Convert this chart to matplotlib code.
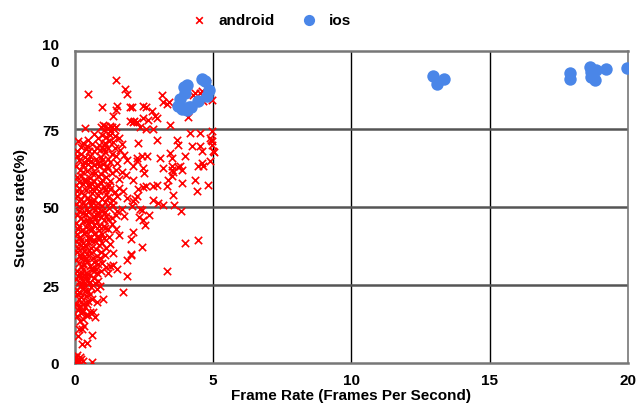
import numpy as np
import matplotlib
matplotlib.use("Agg")
import matplotlib.pyplot as plt

plt.rcParams['font.family'] = ['Liberation Sans', 'DejaVu Sans']
plt.rcParams['font.weight'] = 'bold'

# android points (frame rate, success rate)
android_fps = [
    # sparse upper part
    1.50, 0.49, 1.82, 1.90, 0.99, 1.53, 1.50, 2.00, 1.39, 2.00, 2.11, 0.38, 1.03, 1.28,
    3.16, 3.19, 3.34, 3.41, 2.08, 2.47, 2.58, 2.80, 2.91, 2.47, 2.65, 2.98, 2.15, 2.26,
    4.10, 3.45, 2.36, 2.58, 2.83, 4.53, 4.60, 4.46, 4.64, 4.28, 4.96, 4.89, 4.96, 5.00,
    4.17, 4.53, 3.70, 3.74, 2.98, 2.29, 4.24, 4.53, 4.60, 3.45, 3.52, 2.62, 2.44, 2.26,
    3.09, 3.99, 4.60, 4.89, 3.81, 3.52, 2.26, 4.78, 4.35, 4.96, 4.93, 4.96, 5.04,
    # sparse middle part
    2.11, 2.47, 2.51, 3.19, 3.52, 3.74, 3.88, 4.46, 4.64, 2.11, 2.29, 2.47, 2.58, 2.83,
    2.98, 3.34, 3.38, 3.52, 3.56, 3.88, 4.35, 4.82, 4.42, 3.56, 2.18, 2.26, 2.11, 2.83,
    3.01, 3.19, 3.59, 3.84, 2.08, 2.36, 2.44, 2.69, 2.33, 2.47, 2.55, 2.11, 2.04, 2.44,
    3.99, 4.46, 2.04,
    # sparse lower part
    3.34, 1.90, 1.75, 1.03, 0.63, 0.27, 0.45, 0.63, 2.04, 1.90, 1.53, 1.28, 0.13, 0.27,
    0.31, 0.49, 0.67, 0.74, 0.56, 0.27, 0.81, 0.63, 0.20, 0.38, 0.81, 0.92, 0.85, 0.56,
    0.05, 0.10, 0.15, 0.20, 0.10, 0.25, 0.05, 0.30, 0.18, 0.08,
    # dense cluster
    0.95, 1.05, 1.12, 1.20, 1.28, 1.35, 1.42, 1.50, 1.00, 1.15, 1.30, 1.45, 0.70, 0.85,
    1.10, 1.25, 1.40, 0.50, 1.60, 1.70, 0.90, 0.30, 1.05,
    0.10, 0.25, 0.40, 0.55, 0.70, 0.80, 0.95, 1.10, 1.20, 1.35, 1.50, 1.65, 1.80, 0.15,
    0.35, 0.60, 0.85, 1.00, 1.30, 1.55, 1.90, 0.45,
    0.05, 0.20, 0.30, 0.45, 0.60, 0.75, 0.90, 1.05, 1.20, 1.35, 1.50, 1.70, 0.10, 0.25,
    0.40, 0.55, 0.70, 0.85, 1.00, 1.15, 1.30, 1.60, 1.85, 0.50, 0.95,
    0.05, 0.15, 0.30, 0.40, 0.55, 0.65, 0.80, 0.90, 1.05, 1.15, 1.30, 1.45, 1.60, 1.75,
    0.10, 0.25, 0.35, 0.50, 0.70, 0.85, 1.00, 1.20, 1.40, 1.55, 1.90, 0.60,
    0.05, 0.20, 0.30, 0.45, 0.60, 0.75, 0.85, 1.00, 1.10, 1.25, 1.40, 1.55, 1.70, 0.10,
    0.25, 0.40, 0.55, 0.70, 0.95, 1.15, 1.35, 1.50, 1.80, 0.65, 0.90,
    0.05, 0.15, 0.30, 0.40, 0.50, 0.65, 0.80, 0.90, 1.05, 1.20, 1.35, 1.50, 0.10, 0.20,
    0.35, 0.55, 0.70, 0.85, 1.00, 1.25, 1.60, 0.45, 0.75,
    0.05, 0.15, 0.25, 0.40, 0.50, 0.60, 0.75, 0.90, 1.00, 1.15, 1.30, 0.10, 0.20, 0.35,
    0.45, 0.60, 0.80, 0.95, 1.10, 1.40, 0.30,
    0.05, 0.15, 0.25, 0.35, 0.45, 0.55, 0.70, 0.85, 1.00, 1.15, 0.10, 0.20, 0.30, 0.40,
    0.55, 0.65, 0.80, 0.95, 1.20, 1.40,
    0.05, 0.15, 0.25, 0.35, 0.45, 0.60, 0.70, 0.10, 0.20, 0.30, 0.40, 0.50, 0.15, 0.25,
    0.55, 0.75,
    0.05, 0.15, 0.25, 0.10, 0.20, 0.35, 0.15, 0.45, 0.30,
    # extra fill of the dense cluster
    0.12, 0.22, 0.38, 0.52, 0.65, 0.78, 0.92, 1.08, 1.22, 1.18, 0.62, 0.32, 0.08, 0.48,
    0.72, 1.45, 1.02, 0.18,
    0.08, 0.22, 0.35, 0.48, 0.62, 0.78, 0.95, 1.10, 1.25, 0.18, 0.38, 0.52, 0.68, 0.82,
    0.98, 1.12, 1.28, 0.15, 0.32, 0.48, 0.62, 0.78, 1.05, 1.22,
    0.12, 0.28, 0.42, 0.58, 0.72, 0.88, 1.12, 0.18, 0.32, 0.48, 0.62, 0.78, 0.88, 1.08,
    0.12, 0.28, 0.42, 0.52, 0.68, 0.22, 0.38, 0.62, 0.78, 0.92,
    0.12, 0.28, 0.42, 0.52, 0.32, 0.20, 0.08, 0.38, 0.48, 0.30, 0.12, 0.22, 0.40,
]
android_success = [
    90.7, 86.2, 87.8, 86.2, 81.9, 82.3, 81.0, 82.0, 79.1, 77.5, 77.2, 75.2, 76.2, 75.9,
    85.9, 83.6, 83.0, 83.6, 82.0, 82.3, 82.0, 80.7, 79.1, 78.5, 77.8, 78.5, 77.5, 77.2,
    78.8, 76.2, 75.6, 74.9, 74.9, 86.5, 87.1, 84.2, 83.9, 85.9, 74.3, 72.0, 71.1, 67.8,
    73.6, 73.6, 71.4, 69.8, 71.4, 70.4, 69.5, 69.5, 67.8, 67.2, 65.6, 66.2, 66.2, 65.6,
    65.6, 66.2, 64.0, 64.6, 63.3, 63.0, 64.6, 89.7, 86.5, 84.2, 71.4, 69.8, 67.5,
    63.3, 62.4, 60.8, 62.4, 61.7, 62.7, 61.7, 63.0, 63.3, 58.5, 55.9, 56.3, 56.6, 56.6,
    57.2, 56.6, 58.5, 59.8, 61.1, 57.6, 58.8, 56.9, 55.0, 54.0, 52.7, 53.4, 51.8, 52.1,
    51.4, 50.8, 50.5, 48.6, 50.2, 49.5, 48.9, 47.3, 46.9, 45.7, 44.1, 42.1, 39.9, 37.3,
    38.6, 39.5, 35.0,
    29.6, 28.0, 22.8, 20.6, 9.0, 6.1, 6.4, 0.3, 34.7, 33.1, 30.2, 31.2, 8.7, 10.9,
    14.1, 15.4, 16.4, 14.8, 16.4, 16.4, 19.6, 20.6, 18.3, 18.0, 23.8, 24.8, 26.4, 26.0,
    0.5, 1.0, 0.3, 2.0, 2.5, 1.2, 1.8, 0.5, 0.8, 0.2,
    75.5, 74.8, 76.0, 75.2, 74.5, 75.8, 74.9, 75.5, 73.0, 72.5, 73.2, 72.8, 73.5, 72.0,
    70.5, 71.2, 70.8, 71.5, 72.0, 70.3, 70.0, 70.5, 68.6,
    68.0, 67.0, 68.5, 66.5, 67.8, 69.0, 66.0, 67.5, 65.5, 67.0, 66.2, 68.2, 66.8, 65.0,
    64.5, 64.8, 64.2, 65.0, 64.5, 64.0, 65.2, 69.5,
    63.0, 62.0, 63.5, 61.5, 62.8, 61.0, 63.2, 61.8, 62.5, 60.8, 62.0, 61.2, 59.5, 60.0,
    58.5, 59.2, 58.2, 59.8, 58.8, 59.5, 58.3, 59.0, 60.3, 63.8, 60.5,
    57.0, 56.0, 57.5, 55.5, 56.8, 54.5, 57.2, 55.0, 56.5, 54.2, 55.8, 54.8, 56.2, 55.0,
    53.5, 52.5, 54.0, 53.0, 52.2, 53.8, 52.5, 53.2, 52.3, 53.5, 53.0, 57.8,
    51.0, 50.0, 51.5, 49.5, 50.8, 49.0, 51.2, 50.2, 48.5, 49.8, 50.5, 48.8, 49.5, 47.5,
    46.5, 47.8, 46.2, 47.0, 46.8, 47.2, 46.5, 47.5, 47.0, 51.8, 48.0,
    45.0, 44.0, 45.5, 43.5, 44.8, 43.0, 45.2, 42.5, 44.0, 42.8, 44.5, 43.0, 41.5, 40.5,
    41.8, 40.2, 41.2, 40.8, 41.5, 40.5, 41.0, 45.8, 46.0,
    39.0, 38.0, 39.5, 37.5, 38.8, 37.0, 39.2, 37.8, 38.5, 36.8, 38.0, 35.5, 34.5, 36.0,
    34.8, 35.2, 34.2, 35.5, 34.5, 35.2, 37.2,
    33.0, 32.0, 33.5, 31.5, 32.8, 31.0, 32.5, 31.8, 32.2, 30.8, 29.5, 28.5, 30.0, 29.0,
    28.2, 29.8, 28.8, 29.5, 29.0, 31.5,
    27.0, 26.0, 27.5, 25.0, 26.5, 24.5, 27.2, 23.5, 22.5, 24.0, 21.5, 23.0, 20.5, 21.0,
    22.0, 25.5,
    19.0, 17.5, 19.5, 15.0, 13.5, 12.0, 11.0, 18.8, 16.8,
    71.0, 69.2, 66.0, 68.0, 70.2, 65.5, 68.2, 69.8, 68.8, 63.0, 61.0, 61.3, 66.5, 65.2,
    63.5, 69.0, 63.8, 58.0,
    55.0, 54.8, 58.8, 57.0, 55.8, 56.0, 57.8, 55.5, 57.2, 51.8, 50.5, 52.0, 49.8, 50.0,
    48.8, 51.5, 51.2, 48.8, 48.2, 48.5, 45.5, 47.8, 45.8, 46.0,
    43.0, 42.5, 42.0, 42.5, 44.2, 43.8, 43.2, 39.8, 38.5, 40.0, 39.0, 36.5, 39.8, 40.0,
    36.8, 35.0, 33.8, 36.2, 33.5, 31.0, 33.0, 30.5, 30.2, 33.5,
    28.0, 29.0, 27.8, 25.5, 26.2, 24.8, 22.0, 23.0, 20.0, 19.0, 17.0, 16.0, 15.5,
]

ios_fps = [3.80, 3.75, 3.90, 4.05, 4.20, 3.95, 4.05, 4.00, 4.60, 4.70, 4.85, 4.80, 4.45, 4.15,
           12.94, 13.09, 13.34, 17.89, 17.92, 18.61, 18.83, 18.68, 18.79, 19.19, 19.98, 18.68]
ios_success = [84.5, 82.5, 81.5, 81.0, 82.0, 88.5, 89.0, 86.5, 91.0, 90.5, 87.5, 85.5, 84.0, 82.0,
               92.0, 89.4, 91.0, 92.9, 91.0, 94.9, 93.9, 91.6, 90.7, 94.2, 94.5, 93.2]

x_ticks = [0, 5, 10, 15, 20]
y_ticks = [0, 25, 50, 75, 100]
y_tick_labels = ['0', '25', '50', '75', '10\n0']

fig = plt.figure(figsize=(6.36, 4.14), dpi=100)
ax = fig.add_axes([74.5 / 636, 50 / 414, (628 - 74.5) / 636, (364 - 52) / 414])

ax.scatter(android_fps, android_success, marker='x', s=28, color='#ff0000',
           linewidths=1.2, label='android', zorder=3)
ax.scatter(ios_fps, ios_success, marker='o', s=80, color='#4a86e8',
           linewidths=0, label='ios', zorder=4)

ax.set_xlim(0, 20)
ax.set_ylim(0, 100)
ax.set_xticks(x_ticks)
ax.set_yticks(y_ticks)
ax.set_xticklabels([str(t) for t in x_ticks])
ax.set_yticklabels(y_tick_labels, linespacing=1.25)
ax.tick_params(length=0, labelsize=11)
ax.tick_params(axis='x', pad=7)
ax.tick_params(axis='y', pad=11)

for v in [5, 10, 15]:
    ax.axvline(v, color='black', linewidth=1.0, zorder=1)
for v in [25, 50, 75]:
    ax.axhline(v, color='#555555', linewidth=1.8, zorder=1)

for side in ['left', 'bottom', 'top']:
    ax.spines[side].set_color('#777777')
    ax.spines[side].set_linewidth(1.8)
ax.spines['right'].set_color('#777777')
ax.spines['right'].set_linewidth(1.2)

ax.set_xlabel('Frame Rate (Frames Per Second)', fontsize=11, fontweight='bold', labelpad=1)
ax.set_ylabel('Success rate(%)', fontsize=11, fontweight='bold', labelpad=10)

fig.legend(loc='upper center', bbox_to_anchor=(0.42, 1.0), ncol=2, frameon=False,
           fontsize=11, handletextpad=0.3, columnspacing=1.2, markerscale=0.9)

fig.savefig('out.png', dpi=100)
